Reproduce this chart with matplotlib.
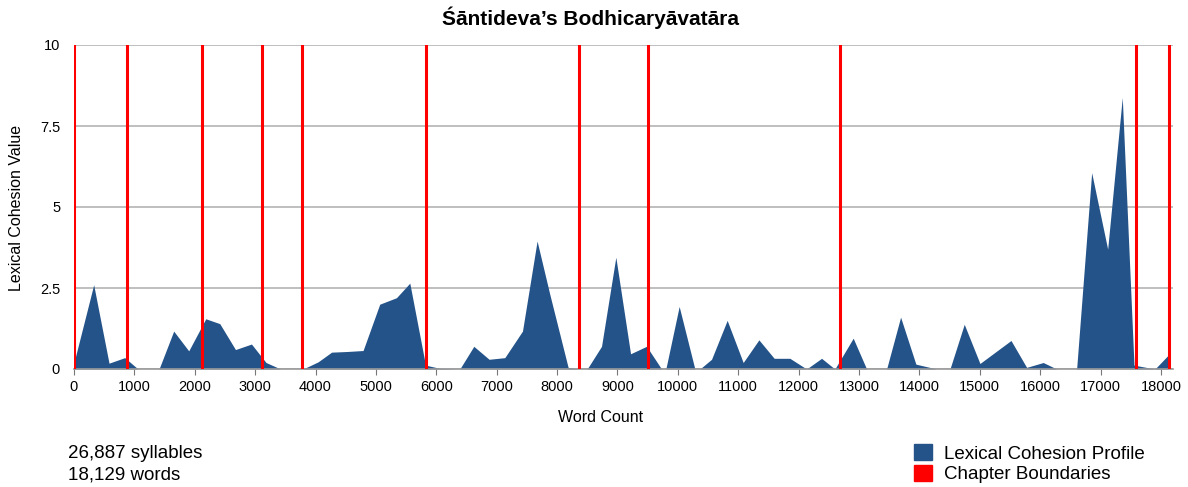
import matplotlib
matplotlib.use('Agg')
import matplotlib.pyplot as plt
from matplotlib.patches import Patch

plt.rcParams['font.family'] = ['Liberation Sans', 'DejaVu Sans']

# word position of each profile vertex, and its lexical cohesion value
word_pos = [0, 326, 580, 840, 1060, 1408, 1651, 1900, 2182, 2414, 2674, 2939,
            3180, 3420, 3783, 3850, 4042, 4266, 4520, 4787, 5063, 5340, 5561,
            5821, 6058, 6389, 6621, 6874, 7134, 7427, 7669, 7880, 8183, 8349,
            8498, 8736, 8973, 9217, 9482, 9730, 9801, 10022, 10282, 10365,
            10558, 10817, 11082, 11342, 11595, 11855, 12132, 12380, 12600,
            12904, 13126, 13457, 13689, 13942, 14285, 14506, 14743, 15003,
            15517, 15776, 16051, 16273, 16604, 16853, 17118, 17360, 17554,
            17901, 18122]
cohesion = [0.2, 2.6, 0.18, 0.35, 0, 0, 1.17, 0.56, 1.55, 1.4, 0.6, 0.77,
            0.2, 0, 0, 0.05, 0.22, 0.52, 0.54, 0.57, 2.0, 2.2, 2.65,
            0.12, 0.02, 0, 0.7, 0.3, 0.35, 1.17, 3.95, 2.3, 0.05, 0,
            0, 0.7, 3.45, 0.47, 0.7, 0, 0, 1.93, 0, 0,
            0.3, 1.5, 0.2, 0.9, 0.33, 0.33, 0, 0.33, 0,
            0.95, 0, 0, 1.6, 0.15, 0, 0, 1.38, 0.17,
            0.88, 0.05, 0.2, 0, 0, 6.06, 3.7, 8.38, 0.12,
            0, 0.43]

chapter_bounds = [0, 878, 2127, 3114, 3783, 5826, 8360, 9508, 12683, 17586, 18129]

x_ticks = list(range(0, 18001, 1000))
y_ticks = [0, 2.5, 5, 7.5, 10]
y_tick_labels = ['0', '2.5', '5', '7.5', '10']

blue = '#245389'
red = '#ff0000'

W, H = 1188, 487
fig = plt.figure(figsize=(W / 100, H / 100), dpi=100)
ax = fig.add_axes([74 / W, 1 - 369 / H, (1173 - 74) / W, (369 - 45) / H])

ax.fill_between(word_pos, cohesion, 0, color=blue, lw=0, zorder=2)
for b in chapter_bounds:
    ax.axvline(b, color=red, lw=2.2, zorder=3)

ax.set_xlim(0, 18200)
ax.set_ylim(0, 10)
ax.set_xticks(x_ticks)
ax.set_yticks(y_ticks)
ax.set_yticklabels(y_tick_labels)
ax.yaxis.grid(True, color='#b4b4b4', lw=1.2)
ax.set_axisbelow(True)

for s in ['top', 'right', 'left']:
    ax.spines[s].set_visible(False)
ax.spines['bottom'].set_color('#9a9a9a')
ax.spines['bottom'].set_linewidth(1.2)
ax.tick_params(axis='y', length=0, labelsize=10.5, pad=10)
ax.tick_params(axis='x', length=4, color='#777777', labelsize=10.5, pad=4)

ax.set_xlabel('Word Count', fontsize=11.5)
ax.xaxis.set_label_coords((601 - 74) / 1099, -(418 - 369) / 324, transform=ax.transAxes)
ax.xaxis.label.set_va('center')
ax.set_ylabel('Lexical Cohesion Value', fontsize=11.5)
ax.yaxis.set_label_coords(-(74 - 17) / 1099, (369 - 208) / 324, transform=ax.transAxes)
ax.yaxis.label.set_va('center')

fig.text(591 / W, 1 - 18 / H, 'Śāntideva’s Bodhicaryāvatāra', ha='center', va='center',
         fontweight='bold', fontsize=15)

fig.text(68 / W, 1 - 458 / H, '26,887 syllables', fontsize=13.5, va='baseline')
fig.text(68 / W, 1 - 479 / H, '18,129 words', fontsize=13.5, va='baseline')

handles = [Patch(color=blue, label='Lexical Cohesion Profile'),
           Patch(color=red, label='Chapter Boundaries')]
fig.legend(handles=handles, loc='upper left', bbox_to_anchor=(914 / W, 1 - 444 / H),
           frameon=False, fontsize=13.5, handlelength=0.95, handleheight=0.95,
           handletextpad=0.65, labelspacing=0.12, borderpad=0, borderaxespad=0)

fig.savefig('out.png', dpi=100)
